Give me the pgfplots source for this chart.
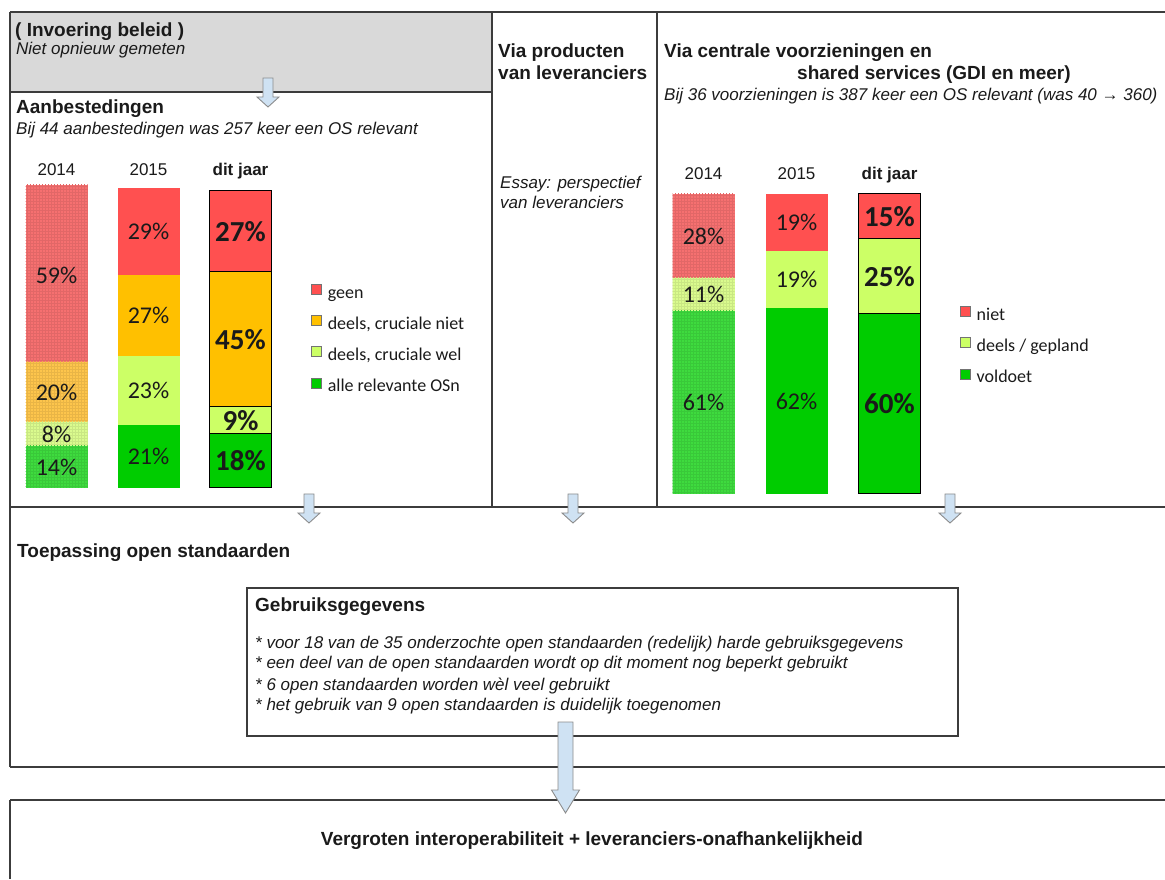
\documentclass[border=0pt]{standalone}
\usepackage{fontspec}
\setmainfont{Liberation Sans}
\newfontfamily\carlito{Carlito}
\usepackage{pgfplots}
\pgfplotsset{compat=1.18}
\usetikzlibrary{patterns}
\definecolor{cRed}{HTML}{FF5050}
\definecolor{cOrange}{HTML}{FFC000}
\definecolor{cLight}{HTML}{CCFF66}
\definecolor{cGreen}{HTML}{00CC00}
\definecolor{oRed}{HTML}{F67070}
\definecolor{oOrange}{HTML}{FDC54C}
\definecolor{oLight}{HTML}{DAFB8E}
\definecolor{oGreen}{HTML}{3EDB3E}
\definecolor{lineC}{HTML}{3C3C3C}
\definecolor{grayBox}{HTML}{D9D9D9}
\definecolor{arrowFill}{HTML}{CFE2F3}
\definecolor{arrowDraw}{HTML}{8C8C8C}
\definecolor{txt}{HTML}{1A1A1A}
\newcommand\tb{\fontsize{19}{22}\selectfont\bfseries}
\newcommand\ti{\fontsize{17}{20}\selectfont\itshape}
\newcommand\smallarrow[2]{%
  \draw[fill=arrowFill, draw=arrowDraw, line width=0.9pt, shift={(#1pt,#2pt)}]
   (-5pt,0pt) -- (5pt,0pt) -- (5pt,-19pt) -- (11pt,-19pt) -- (0pt,-29pt) -- (-11pt,-19pt) -- (-5pt,-19pt) -- cycle;}
\pgfplotsset{
  baraxis/.style={ybar stacked, bar width=62pt, x=62pt, y=3pt,
    xmin=-0.5, xmax=0.5, ymin=0, ymax=100, hide axis, clip=false, anchor=origin},
  old/.style={fill=#1, draw=none, postaction={pattern=grid, pattern color=#1!92!black}},
  new/.style={fill=#1, draw=none},
  cur/.style={fill=#1, draw=black, line width=1pt},
  labaxis/.style={y=3pt, xmin=-0.5, xmax=2.5, ymin=0, ymax=100, clip=false, anchor=origin,
    axis line style={draw=none}, ytick=\empty, xtick={0,1,2},
    xticklabels={2014,2015,\textbf{dit jaar}}, xticklabel pos=right,
    major tick length=0pt, xtick style={draw=none},
    xticklabel style={anchor=base, font=\fontsize{17}{20}\selectfont, text=txt},
    legend cell align=left,
    legend image code/.code={\draw[##1, draw=black!55, line width=0.6pt] (0pt,0pt) rectangle (10pt,10pt); \path (15pt,0pt);},
    legend style={draw=none, fill=none, inner sep=0pt, anchor=west,
      font=\carlito\fontsize{18}{20}\selectfont,
      nodes={inner sep=1pt, text height=12pt, text depth=4pt, text=txt}},
  },
  lab/.style={draw=none, mark=none, forget plot, nodes near coords, point meta=explicit symbolic,
     nodes near coords style={anchor=center, font=#1, text=txt}},
}
\begin{document}
\begin{tikzpicture}
\useasboundingbox (0pt,0pt) rectangle (1165pt,879pt);
% frames
\fill[grayBox] (10pt,787pt) rectangle (492pt,867pt);
\begin{scope}[draw=lineC, line width=1.1pt]
\draw (10pt,867pt) -- (1165pt,867pt);
\draw (10pt,787pt) -- (492pt,787pt);
\draw (10pt,867pt) -- (10pt,112pt);
\draw (492pt,867pt) -- (492pt,372pt);
\draw (657pt,867pt) -- (657pt,372pt);
\draw (10pt,372pt) -- (1165pt,372pt);
\draw (10pt,112pt) -- (1165pt,112pt);
\draw (247pt,291pt) rectangle (958pt,143pt);
\draw (10pt,79pt) -- (1165pt,79pt);
\draw (10pt,79pt) -- (10pt,0pt);
\end{scope}
% texts
\begin{scope}[every node/.style={anchor=base west, inner sep=0pt, text=txt}]
\node[font=\tb] at (15pt,842pt) {( Invoering beleid )};
\node[font=\ti] at (16pt,824pt) {Niet opnieuw gemeten};
\node[font=\tb] at (16pt,765pt) {Aanbestedingen};
\node[font=\ti] at (16pt,744pt) {Bij 44 aanbestedingen was 257 keer een OS relevant};
\node[font=\tb] at (498pt,821pt) {Via producten};
\node[font=\tb] at (498pt,799pt) {van leveranciers};
\node[font=\tb] at (664pt,821pt) {Via centrale voorzieningen en};
\node[font=\tb] at (797pt,799pt) {shared services (GDI en meer)};
\node[font=\ti] at (664pt,778pt) {Bij 36 voorzieningen is 387 keer een OS relevant (was 40 → 360)};
\node[font=\ti] at (500pt,690pt) {Essay: perspectief};
\node[font=\ti] at (500pt,670pt) {van leveranciers};
\node[font=\tb] at (17pt,321pt) {Toepassing open standaarden};
\node[font=\tb] at (255pt,267pt) {Gebruiksgegevens};
\node[font=\ti] at (255pt,230pt) {* voor 18 van de 35 onderzochte open standaarden (redelijk) harde gebruiksgegevens};
\node[font=\ti] at (255pt,210pt) {* een deel van de open standaarden wordt op dit moment nog beperkt gebruikt};
\node[font=\ti] at (255pt,189pt) {* 6 open standaarden worden wèl veel gebruikt};
\node[font=\ti] at (255pt,169pt) {* het gebruik van 9 open standaarden is duidelijk toegenomen};
\node[font=\tb, anchor=base] at (592pt,34pt) {Vergroten interoperabiliteit + leveranciers-onafhankelijkheid};
\end{scope}
% ---------- left chart (Aanbestedingen) ----------
\begin{axis}[baraxis, at={(56.5pt,391pt)}]
\addplot[old=oGreen] coordinates {(0,14)};
\addplot[old=oLight] coordinates {(0,8)};
\addplot[old=oOrange] coordinates {(0,20)};
\addplot[old=oRed] coordinates {(0,59)};
\end{axis}
\begin{axis}[baraxis, at={(148.5pt,391pt)}]
\addplot[new=cGreen] coordinates {(0,21)};
\addplot[new=cLight] coordinates {(0,23)};
\addplot[new=cOrange] coordinates {(0,27)};
\addplot[new=cRed] coordinates {(0,29)};
\end{axis}
\begin{axis}[baraxis, at={(240.5pt,391pt)}]
\addplot[cur=cGreen] coordinates {(0,18)};
\addplot[cur=cLight] coordinates {(0,9)};
\addplot[cur=cOrange] coordinates {(0,45)};
\addplot[cur=cRed] coordinates {(0,27)};
\end{axis}
\begin{axis}[labaxis, x=92pt, at={(56.5pt,391pt)}, xticklabel style={yshift=12pt},
  legend style={at={(1.089,0.492)}, row sep=12pt}]
\addlegendimage{fill=cRed}\addlegendentry{geen}
\addlegendimage{fill=cOrange}\addlegendentry{deels, cruciale niet}
\addlegendimage{fill=cLight}\addlegendentry{deels, cruciale wel}
\addlegendimage{fill=cGreen}\addlegendentry{alle relevante OSn}
\addplot[lab={\carlito\fontsize{24}{26}\selectfont}] coordinates {(0,7) [14\%] (0,18) [8\%] (0,32) [20\%] (0,71) [59\%]};
\addplot[lab={\carlito\fontsize{24}{26}\selectfont}] coordinates {(1,10.5) [21\%] (1,32.5) [23\%] (1,57.5) [27\%] (1,85.5) [29\%]};
\addplot[lab={\carlito\bfseries\fontsize{29}{30}\selectfont}] coordinates {(2,9) [18\%] (2,22.5) [9\%] (2,49.5) [45\%] (2,85.5) [27\%]};
\end{axis}
% ---------- right chart (voorzieningen) ----------
\begin{axis}[baraxis, at={(703.5pt,385pt)}]
\addplot[old=oGreen] coordinates {(0,61)};
\addplot[old=oLight] coordinates {(0,11)};
\addplot[old=oRed] coordinates {(0,28)};
\end{axis}
\begin{axis}[baraxis, at={(796.5pt,385pt)}]
\addplot[new=cGreen] coordinates {(0,62)};
\addplot[new=cLight] coordinates {(0,19)};
\addplot[new=cRed] coordinates {(0,19)};
\end{axis}
\begin{axis}[baraxis, at={(889.5pt,385pt)}]
\addplot[cur=cGreen] coordinates {(0,60)};
\addplot[cur=cLight] coordinates {(0,25)};
\addplot[cur=cRed] coordinates {(0,15)};
\end{axis}
\begin{axis}[labaxis, x=93pt, at={(703.5pt,385pt)}, xticklabel style={yshift=14pt},
  legend style={at={(1.086,0.49)}, row sep=12pt}]
\addlegendimage{fill=cRed}\addlegendentry{niet}
\addlegendimage{fill=cLight}\addlegendentry{deels / gepland}
\addlegendimage{fill=cGreen}\addlegendentry{voldoet}
\addplot[lab={\carlito\fontsize{24}{26}\selectfont}] coordinates {(0,30.5) [61\%] (0,66.5) [11\%] (0,86) [28\%]};
\addplot[lab={\carlito\fontsize{24}{26}\selectfont}] coordinates {(1,31) [62\%] (1,71.5) [19\%] (1,90.5) [19\%]};
\addplot[lab={\carlito\bfseries\fontsize{29}{30}\selectfont}] coordinates {(2,30) [60\%] (2,72.5) [25\%] (2,92.5) [15\%]};
\end{axis}
% arrows
\smallarrow{268}{801}
\smallarrow{309}{385}
\smallarrow{573}{385}
\smallarrow{950}{385}
\draw[fill=arrowFill, draw=arrowDraw, line width=0.9pt]
  (558pt,157pt) -- (573pt,157pt) -- (573pt,89pt) -- (579.5pt,89pt) -- (565.5pt,66pt) -- (551.5pt,89pt) -- (558pt,89pt) -- cycle;
\end{tikzpicture}
\end{document}
